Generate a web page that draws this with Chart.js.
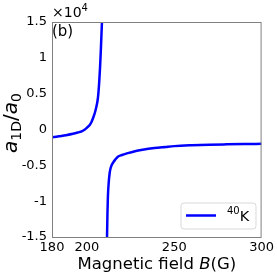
<!DOCTYPE html>
<html>
<head>
<meta charset="utf-8">
<script src="https://cdn.jsdelivr.net/npm/chart.js@4.4.1/dist/chart.umd.min.js"></script>
<style>
  html, body { margin: 0; padding: 0; background: #fff; }
  #wrap { width: 277px; height: 277px; }
</style>
</head>
<body>
<div id="wrap"><canvas id="c" width="277" height="277"></canvas></div>
<script>
// B in gauss, a1D in units of a0
const leftB = [180, 184, 188, 192, 195, 197, 198.8, 200, 201.6, 202.6, 203.5, 204.5, 205.4, 206.0, 206.5, 207.0, 207.5, 208.0, 208.6, 209.2];
const leftA = [-1090, -940, -790, -600, -400, -250, 0, 250, 630, 1050, 1600, 2300, 3180, 3900, 4900, 6500, 8600, 11300, 15000, 19500];
const rightB = [211.2, 211.5, 211.75, 212.0, 212.5, 213.0, 213.5, 214.2, 214.9, 216.2, 217.7, 220, 223.4, 227, 231, 238.6, 245, 250, 260, 270, 280, 290, 300];
const rightA = [-20000, -15000, -11700, -9400, -7300, -6100, -5450, -4950, -4650, -4200, -3800, -3560, -3300, -3060, -2870, -2580, -2430, -2320, -2200, -2120, -2070, -2030, -2000];
const xTicks = [180, 200, 250, 300];
const yTicks = [-15000, -10000, -5000, 0, 5000, 10000, 15000];
const seriesLabel = '40K';

const FONT = '"DejaVu Sans", sans-serif';
const BLUE = '#0000ff';

const points = leftB.map((b, i) => ({ x: b, y: leftA[i] }))
  .concat([{ x: 210, y: null }])
  .concat(rightB.map((b, i) => ({ x: b, y: rightA[i] })));

function tickText(v) {
  return String(Math.round(v / 1000) / 10);
}

const decor = {
  id: 'decor',
  afterDraw(chart) {
    const { ctx, chartArea: a } = chart;
    ctx.save();
    ctx.strokeStyle = '#808080';
    ctx.lineWidth = 1;
    ctx.strokeRect(a.left + 0.5, a.top + 0.5, a.right - a.left - 1, a.bottom - a.top);
    ctx.fillStyle = '#000';
    ctx.textBaseline = 'alphabetic';

    // ×10^4 offset text
    ctx.font = '14px ' + FONT;
    ctx.textAlign = 'left';
    ctx.fillText('\u00d710', 52, 17);
    let w = ctx.measureText('\u00d710').width;
    ctx.font = '10px ' + FONT;
    ctx.fillText('4', 52 + w, 11);

    // panel tag
    ctx.font = '15px ' + FONT;
    ctx.fillText('(b)', 52, 36);

    // x title
    const p1 = 'Magnetic field ', p2 = 'B', p3 = '(G)';
    ctx.font = '16.5px ' + FONT;
    const w1 = ctx.measureText(p1).width, w3 = ctx.measureText(p3).width;
    ctx.font = 'italic 16.5px ' + FONT;
    const w2 = ctx.measureText(p2).width;
    let x = (a.left + a.right) / 2 - (w1 + w2 + w3) / 2;
    ctx.font = '16.5px ' + FONT;
    ctx.fillText(p1, x, 269); x += w1;
    ctx.font = 'italic 16.5px ' + FONT;
    ctx.fillText(p2, x, 269); x += w2;
    ctx.font = '16.5px ' + FONT;
    ctx.fillText(p3, x, 269);

    // y title a_1D / a_0, rotated
    ctx.translate(17, 123);
    ctx.rotate(-Math.PI / 2);
    const big = 'italic 20px ' + FONT, small = '14px ' + FONT, reg = '20px ' + FONT;
    const parts = [['a', big, 0], ['1D', small, 4], ['/', reg, 0], ['a', big, 0], ['0', small, 4]];
    let total = 0;
    parts.forEach(p => { ctx.font = p[1]; total += ctx.measureText(p[0]).width; });
    x = -total / 2;
    parts.forEach(p => { ctx.font = p[1]; ctx.fillText(p[0], x, p[2]); x += ctx.measureText(p[0]).width; });
    ctx.restore();

    // legend
    ctx.save();
    const lx = 181, ly = 203, lw = 75, lh = 26, r = 3;
    ctx.beginPath();
    ctx.moveTo(lx + r, ly);
    ctx.arcTo(lx + lw, ly, lx + lw, ly + lh, r);
    ctx.arcTo(lx + lw, ly + lh, lx, ly + lh, r);
    ctx.arcTo(lx, ly + lh, lx, ly, r);
    ctx.arcTo(lx, ly, lx + lw, ly, r);
    ctx.closePath();
    ctx.fillStyle = 'rgba(255,255,255,0.8)';
    ctx.fill();
    ctx.strokeStyle = '#d9d9d9';
    ctx.lineWidth = 1;
    ctx.stroke();
    ctx.strokeStyle = BLUE;
    ctx.lineWidth = 2.5;
    ctx.beginPath();
    ctx.moveTo(186, 215.5);
    ctx.lineTo(216, 215.5);
    ctx.stroke();
    ctx.fillStyle = '#000';
    ctx.font = '10px ' + FONT;
    ctx.textAlign = 'left';
    ctx.fillText(seriesLabel.slice(0, 2), 227, 214);
    w = ctx.measureText(seriesLabel.slice(0, 2)).width;
    ctx.font = '14.5px ' + FONT;
    ctx.fillText(seriesLabel.slice(2), 227 + w, 221);
    ctx.restore();
  }
};

new Chart(document.getElementById('c'), {
  type: 'line',
  data: {
    datasets: [{
      label: seriesLabel,
      data: points,
      borderColor: BLUE,
      borderWidth: 2.5,
      pointRadius: 0,
      fill: false,
      spanGaps: false,
      cubicInterpolationMode: 'monotone',
    }],
  },
  options: {
    responsive: false,
    animation: false,
    layout: { padding: { top: 22, right: 14, left: 0, bottom: 0 } },
    plugins: { legend: { display: false }, tooltip: { enabled: false } },
    scales: {
      x: {
        type: 'linear',
        min: 180, max: 300,
        afterBuildTicks: s => { s.ticks = xTicks.map(v => ({ value: v })); },
        afterFit: s => { s.height = 40; },
        grid: { display: false, drawTicks: false },
        border: { display: false },
        ticks: { color: '#000', font: { family: FONT, size: 13 }, padding: 3, maxRotation: 0 },
      },
      y: {
        min: -15000, max: 15000,
        afterBuildTicks: s => { s.ticks = yTicks.map(v => ({ value: v })); },
        afterFit: s => { s.width = 52; },
        grid: { display: false, drawTicks: false },
        border: { display: false },
        ticks: { color: '#000', font: { family: FONT, size: 13 }, padding: 5, callback: v => tickText(v) },
      },
    },
  },
  plugins: [decor],
});
</script>
</body>
</html>
